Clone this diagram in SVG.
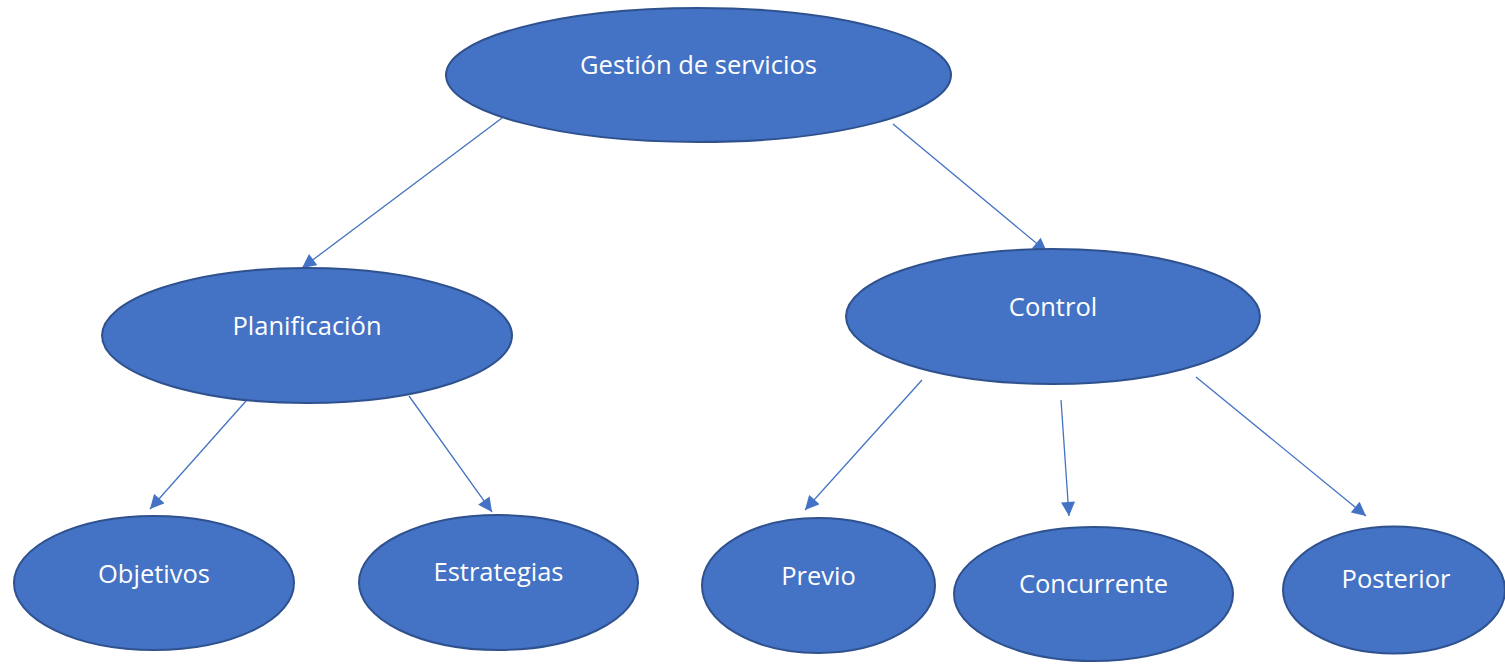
<svg xmlns="http://www.w3.org/2000/svg" width="1505" height="669" viewBox="0 0 1505 669">
<style>
.n{fill:#4472C4;stroke:#2F528F;stroke-width:2}
.t{fill:#fff;font-family:"Open Sans","Liberation Sans",sans-serif;font-size:25.5px;text-anchor:middle;dominant-baseline:central}
.c{stroke:#4472C4;stroke-width:1.3;fill:none;marker-end:url(#a)}
</style>
<defs>
<marker id="a" viewBox="0 0 10 10" refX="10" refY="5" markerWidth="15" markerHeight="14" markerUnits="userSpaceOnUse" orient="auto">
<path d="M0,0 L10,5 L0,10 Z" fill="#4472C4"/>
</marker>
</defs>
<rect width="1505" height="669" fill="#fff"/>
<g id="connectors">
<line class="c" x1="502" y1="118" x2="302" y2="268"/>
<line class="c" x1="893" y1="124" x2="1047" y2="252"/>
<line class="c" x1="246" y1="401" x2="150" y2="509"/>
<line class="c" x1="409" y1="396" x2="492" y2="512"/>
<line class="c" x1="922" y1="380" x2="805" y2="510"/>
<line class="c" x1="1061" y1="400" x2="1069" y2="516"/>
<line class="c" x1="1196" y1="377" x2="1366" y2="516"/>
</g>
<g id="gestion"><ellipse class="n" cx="698.5" cy="75" rx="252.5" ry="67"/><text class="t" x="698.5" y="64">Gestión de servicios</text></g>
<g id="planificacion"><ellipse class="n" cx="307" cy="335.5" rx="205" ry="67.5"/><text class="t" x="307" y="325">Planificación</text></g>
<g id="control"><ellipse class="n" cx="1053" cy="316.5" rx="207" ry="67.5"/><text class="t" x="1053" y="306">Control</text></g>
<g id="objetivos"><ellipse class="n" cx="154" cy="583" rx="140" ry="67"/><text class="t" x="154" y="573">Objetivos</text></g>
<g id="estrategias"><ellipse class="n" cx="498.5" cy="582.5" rx="139.5" ry="67.5"/><text class="t" x="498.5" y="571">Estrategias</text></g>
<g id="previo"><ellipse class="n" cx="818.5" cy="585.5" rx="116.5" ry="67.5"/><text class="t" x="818.5" y="575">Previo</text></g>
<g id="concurrente"><ellipse class="n" cx="1093.5" cy="594" rx="139.5" ry="67"/><text class="t" x="1093.5" y="583">Concurrente</text></g>
<g id="posterior"><ellipse class="n" cx="1394" cy="590" rx="111" ry="63.5"/><text class="t" x="1396" y="578">Posterior</text></g>
</svg>
